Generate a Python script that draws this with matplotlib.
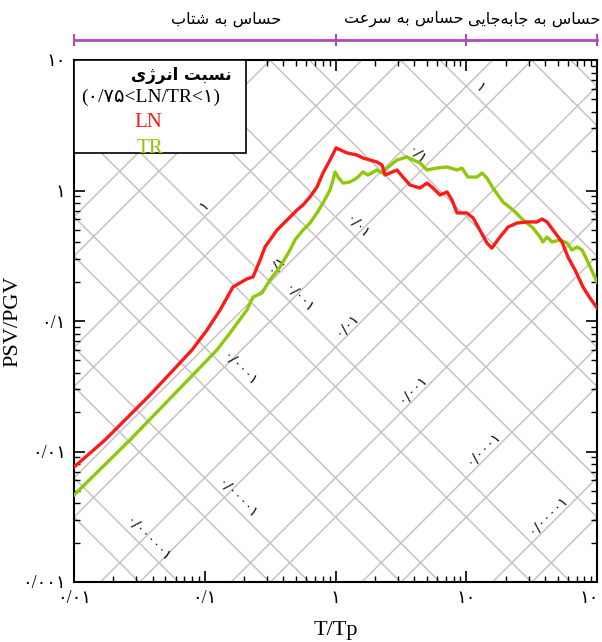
import numpy as np
import matplotlib.pyplot as plt
from matplotlib.patches import Rectangle
from matplotlib.transforms import ScaledTranslation

# ----------------------------------------------------
# data
# ----------------------------------------------------
ln_t = [0.01, 0.01726, 0.0381, 0.0799, 0.104, 0.131, 0.1644, 0.2104, 0.2339, 0.265,
        0.289, 0.357, 0.426, 0.508, 0.564, 0.638, 0.722, 0.802, 0.908, 0.991,
        1.009, 1.224, 1.459, 1.622, 1.835, 2.077, 2.27, 2.39, 2.61, 2.95,
        3.28, 3.71, 4.43, 5.01, 5.57, 6.3, 7.13, 7.78, 8.5, 10.1,
        11.3, 12.7, 14.4, 15.7, 18.1, 20.9, 24.4, 29.2, 34.8, 37.9,
        41.5, 46.1, 54, 60, 67.9, 78.2, 88.4, 100]
ln_psv = [0.0076, 0.01225, 0.0271, 0.060, 0.0853, 0.1214, 0.1823, 0.2104, 0.2174, 0.293,
          0.369, 0.498, 0.594, 0.709, 0.774, 0.892, 1.064, 1.362, 1.713, 2.04,
          2.12, 1.94, 1.87, 1.775, 1.713, 1.653, 1.567, 1.314, 1.362, 1.436,
          1.268, 1.102, 1.045, 1.14, 1.045, 0.924, 0.975, 0.846, 0.673, 0.673,
          0.616, 0.498, 0.396, 0.362, 0.440, 0.525, 0.563, 0.574, 0.574, 0.605,
          0.574, 0.498, 0.403, 0.309, 0.246, 0.182, 0.150, 0.126]

tr_t = [0.01, 0.0268, 0.124, 0.156, 0.210, 0.234, 0.274, 0.315, 0.376, 0.449,
        0.490, 0.564, 0.638, 0.722, 0.802, 0.908, 0.957, 0.991, 1.045, 1.141,
        1.29, 1.459, 1.622, 1.773, 2.077, 2.27, 2.48, 2.95, 3.52, 3.92,
        4.43, 5.01, 5.97, 7.13, 8.5, 9.27, 10.3, 12.1, 13.2, 14.4,
        16.0, 19.1, 22.8, 27.2, 32.4, 36.7, 38.6, 41.5, 45.3, 52.1,
        59, 64.4, 70.3, 76.8, 83.9, 93.1, 100]
tr_psv = [0.00464, 0.01225, 0.060, 0.0809, 0.1214, 0.1527, 0.164, 0.206, 0.259, 0.350,
          0.418, 0.498, 0.563, 0.673, 0.802, 1.009, 1.203, 1.386, 1.268, 1.14,
          1.161, 1.247, 1.386, 1.314, 1.436, 1.362, 1.487, 1.713, 1.807, 1.713,
          1.626, 1.436, 1.487, 1.514, 1.436, 1.487, 1.268, 1.268, 1.362, 1.247,
          1.045, 0.816, 0.709, 0.594, 0.516, 0.440, 0.403, 0.440, 0.403, 0.418,
          0.396, 0.350, 0.369, 0.350, 0.293, 0.233, 0.199]

x_ticks = [0.01, 0.1, 1, 10, 100]
x_ticklabels = ['۰/۰۱', '۰/۱', '۱', '۱۰', '۱۰']
y_ticks = [0.001, 0.01, 0.1, 1, 10]
y_ticklabels = ['۰/۰۰۱', '۰/۰۱', '۰/۱', '۱', '۱۰']

# tripartite grid: lines at 0.5 and 1 of every decade
grid_steps = [0.5, 1.0]
grid_decades = range(-8, 5)

# constant-acceleration lines (rising), labelled value v -> PSV = 2*pi*v*T
acc_vals = [1, 0.1, 0.01, 0.001, 1e-4, 1e-5]
acc_text = ['۱', '۰/۱', '۰/۰۱', '۰/۰۰۱', '۰/۰۰۰۱', '۰/۰۰۰۰۱']
acc_label_t = [0.11, 0.39, 1.35, 4.3, 15, 47]

# constant-displacement lines (falling), labelled value w -> PSV = 20*pi*w/T
disp_vals = [1e-6, 1e-5, 1e-4, 1e-3, 0.01, 0.1, 1]
disp_text = ['۰/۰۰۰۰۰۱', '۰/۰۰۰۰۱', '۰/۰۰۰۱', '۰/۰۰۱', '۰/۰۱', '۰/۱', '۱']
disp_label_t = [0.033, 0.16, 0.165, 0.47, 1.32, 3.76, 11.4]

zone_names = ['حساس به شتاب', 'حساس به سرعت', 'حساس به جابه\u200cجایی']
zone_edges = [0.01, 1, 10, 100]
zone_label_t = [0.146, 3.3, 33]

# ----------------------------------------------------
# minimal Persian shaping (matplotlib has no RTL / joining)
# ----------------------------------------------------
FORMS = {
    '\u0627': ('\uFE8D', '\uFE8E', None, None),
    '\u0628': ('\uFE8F', '\uFE90', '\uFE91', '\uFE92'),
    '\u062A': ('\uFE95', '\uFE96', '\uFE97', '\uFE98'),
    '\u062C': ('\uFE9D', '\uFE9E', '\uFE9F', '\uFEA0'),
    '\u062D': ('\uFEA1', '\uFEA2', '\uFEA3', '\uFEA4'),
    '\u0631': ('\uFEAD', '\uFEAE', None, None),
    '\u0632': ('\uFEAF', '\uFEB0', None, None),
    '\u0698': ('\uFB8A', '\uFB8B', None, None),
    '\u0633': ('\uFEB1', '\uFEB2', '\uFEB3', '\uFEB4'),
    '\u0634': ('\uFEB5', '\uFEB6', '\uFEB7', '\uFEB8'),
    '\u0639': ('\uFEC9', '\uFECA', '\uFECB', '\uFECC'),
    '\u0646': ('\uFEE5', '\uFEE6', '\uFEE7', '\uFEE8'),
    '\u0647': ('\uFEE9', '\uFEEA', '\uFEEB', '\uFEEC'),
    '\u06CC': ('\uFBFC', '\uFBFD', '\uFBFE', '\uFBFF'),
}


def fa(text):
    out = []
    for i, ch in enumerate(text):
        if ch not in FORMS:
            if ch != '\u200c':
                out.append(ch)
            continue
        prev = text[i - 1] if i > 0 else ''
        nxt = text[i + 1] if i + 1 < len(text) else ''
        join_prev = prev in FORMS and FORMS[prev][2] is not None
        join_next = nxt in FORMS and FORMS[ch][2] is not None
        iso, fin, ini, med = FORMS[ch]
        if join_prev and join_next:
            out.append(med)
        elif join_prev:
            out.append(fin)
        elif join_next:
            out.append(ini)
        else:
            out.append(iso)
    return ''.join(reversed(out))


SERIF = ['Liberation Serif', 'DejaVu Sans']
ARAB = ['DejaVu Sans']

RED = '#ff1a1a'
GREEN = '#8fc80a'
GRID = '#c4c4c4'
PURPLE = '#b04ab8'

fig = plt.figure(figsize=(6.02, 6.42), dpi=100)
ax = fig.add_axes([74 / 602, 1 - 582 / 642, 523 / 602, 522 / 642])
ax.set_xscale('log')
ax.set_yscale('log')
ax.set_xlim(0.01, 100)
ax.set_ylim(0.001, 10)

# diagonal grid
t = np.logspace(-2, 2, 50)
for k in grid_decades:
    for s in grid_steps:
        c = 2 * np.pi * s * 10.0 ** k
        ax.plot(t, c * t, color=GRID, lw=1.1, zorder=1)
        ax.plot(t, c / t, color=GRID, lw=1.1, zorder=1)

for v, txt, tx in zip(acc_vals, acc_text, acc_label_t):
    ax.annotate(txt, xy=(tx, 2 * np.pi * v * tx), xytext=(-4.5, 4.5),
                textcoords='offset points', rotation=45, rotation_mode='anchor',
                ha='center', va='center', fontsize=10, family=ARAB, zorder=2)
for w, txt, tx in zip(disp_vals, disp_text, disp_label_t):
    ax.annotate(txt, xy=(tx, 20 * np.pi * w / tx), xytext=(4.5, 4.5),
                textcoords='offset points', rotation=-45, rotation_mode='anchor',
                ha='center', va='center', fontsize=10, family=ARAB, zorder=2)

ax.plot(tr_t, tr_psv, color=GREEN, lw=2.4, zorder=3)
ax.plot(ln_t, ln_psv, color=RED, lw=2.4, zorder=4)

ax.set_xticks(x_ticks)
ax.set_xticklabels(x_ticklabels, family=SERIF, fontsize=13)
ax.set_yticks(y_ticks)
ax.set_yticklabels(y_ticklabels, family=SERIF, fontsize=13)
ax.tick_params(which='both', direction='in', top=True, right=True)
ax.tick_params(which='major', length=8, width=1.2, pad=6)
ax.tick_params(which='minor', length=4.5, width=1.0)
for sp in ax.spines.values():
    sp.set_linewidth(1.5)

# keep the last x label inside the figure, as in the reference
last = ax.get_xticklabels()[-1]
last.set_horizontalalignment('right')
last.set_transform(last.get_transform() + ScaledTranslation(1 / 72, 0, fig.dpi_scale_trans))

ax.set_xlabel('T/Tp', family=SERIF, fontsize=16, labelpad=10)
ax.set_ylabel('PSV/PGV', family=SERIF, fontsize=16)
ax.yaxis.set_label_coords(-0.099, 0.5)

# legend box
ax.add_patch(Rectangle((0, 0.822), 0.329, 0.178, transform=ax.transAxes,
                       facecolor='white', edgecolor='black', lw=1.2, zorder=5))
ax.text(0.205, 0.971, fa('نسبت انرژی'), transform=ax.transAxes, ha='center', va='center',
        fontsize=12, fontweight='bold', family=ARAB, zorder=6)
ax.text(0.147, 0.929, '(۰/۷۵<LN/TR<۱)', transform=ax.transAxes, ha='center', va='center',
        fontsize=14, family=SERIF, zorder=6)
ax.text(0.142, 0.881, 'LN', transform=ax.transAxes, ha='center', va='center',
        fontsize=15, color=RED, family=SERIF, zorder=6)
ax.text(0.145, 0.831, 'TR', transform=ax.transAxes, ha='center', va='center',
        fontsize=15, color=GREEN, family=SERIF, zorder=6)

# zone bar on top
axz = fig.add_axes([74 / 602, 1 - 60 / 642, 523 / 602, 60 / 642])
axz.set_xscale('log')
axz.set_xlim(0.01, 100)
axz.set_ylim(0, 60)
axz.axis('off')
axz.plot([zone_edges[0], zone_edges[-1]], [20, 20], color=PURPLE, lw=2, clip_on=False)
axz.vlines(zone_edges, 14, 26, color=PURPLE, lw=1.5, clip_on=False)
for name, tx in zip(zone_names, zone_label_t):
    axz.text(tx, 41, fa(name), ha='center', va='center', fontsize=11.5,
             family=ARAB, clip_on=False)

fig.savefig('out.png', dpi=100)
